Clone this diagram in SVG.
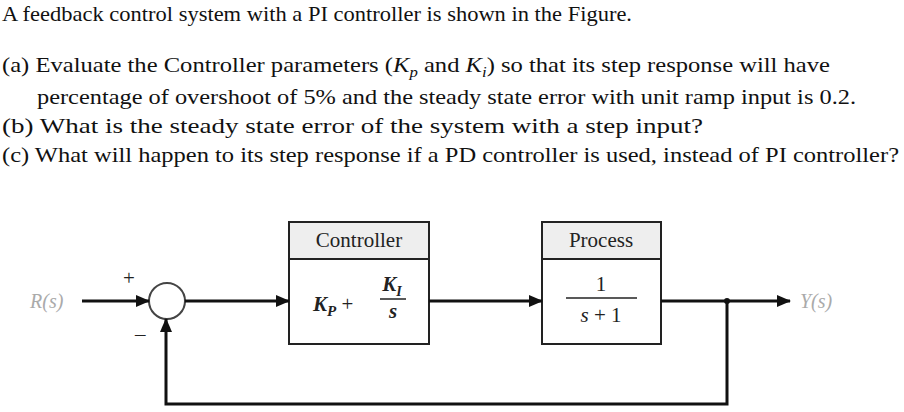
<svg xmlns="http://www.w3.org/2000/svg" width="904" height="412" viewBox="0 0 904 412">
<style>
.t{font-family:"Liberation Serif",serif;font-size:22px;fill:#111}
.b{fill:#fff;stroke:#222;stroke-width:2}
.h{fill:#eee;stroke:#222;stroke-width:2}
.c{stroke:#111;stroke-width:3;fill:none}
.g{font-family:"Liberation Serif",serif;font-size:20px;fill:#aaa;font-style:italic}
.m{font-family:"Liberation Serif",serif;font-size:21px;fill:#222}
</style>
<defs><marker id="a" markerWidth="14" markerHeight="12" refX="13" refY="6" orient="auto" markerUnits="userSpaceOnUse"><path d="M0,0L14,6L0,12z" fill="#111"/></marker></defs>
<rect width="904" height="412" fill="#fff"/>
<text class="t" x="2" y="21" textLength="630" lengthAdjust="spacingAndGlyphs">A feedback control system with a PI controller is shown in the Figure.</text>
<text class="t" x="2" y="72" textLength="828" lengthAdjust="spacingAndGlyphs">(a) Evaluate the Controller parameters (<tspan font-style="italic">K</tspan><tspan font-style="italic" font-size="15" dy="5">p</tspan><tspan dy="-5"> and </tspan><tspan font-style="italic">K</tspan><tspan font-style="italic" font-size="15" dy="5">i</tspan><tspan dy="-5">) so that its step response will have</tspan></text>
<text class="t" x="37" y="104" textLength="819" lengthAdjust="spacingAndGlyphs">percentage of overshoot of 5% and the steady state error with unit ramp input is 0.2.</text>
<text class="t" x="2" y="133" textLength="701" lengthAdjust="spacingAndGlyphs">(b) What is the steady state error of the system with a step input?</text>
<text class="t" x="2" y="162" textLength="897" lengthAdjust="spacingAndGlyphs">(c) What will happen to its step response if a PD controller is used, instead of PI controller?</text>
<g id="sum"><circle cx="167" cy="301" r="18" fill="#fff" stroke="#444" stroke-width="2"/><text class="m" x="123" y="285" font-size="24">+</text><text class="m" x="135" y="341" font-size="24">–</text></g>
<g id="controller"><rect class="b" x="289" y="222" width="140" height="122"/><rect class="h" x="289" y="222" width="140" height="37"/><text class="m" x="359" y="247" text-anchor="middle">Controller</text>
<text class="m" x="313" y="311" font-style="italic" font-weight="bold" font-size="23">K<tspan font-size="15" dy="5">P</tspan><tspan dy="-5" font-weight="normal" font-style="normal"> +</tspan></text>
<text class="m" x="392" y="291" font-style="italic" font-weight="bold" text-anchor="middle" font-size="22">K<tspan font-size="14" dy="5">I</tspan></text>
<line x1="380" y1="299" x2="406" y2="299" stroke="#222" stroke-width="1.5"/>
<text class="m" x="393" y="318" font-style="italic" font-weight="bold" text-anchor="middle">s</text></g>
<g id="process"><rect class="b" x="542" y="222" width="119" height="122"/><rect class="h" x="542" y="222" width="119" height="37"/><text class="m" x="601" y="247" text-anchor="middle">Process</text>
<text class="m" x="601" y="291" text-anchor="middle">1</text><line x1="566" y1="298" x2="637" y2="298" stroke="#222" stroke-width="1.5"/><text class="m" x="601" y="322" text-anchor="middle"><tspan font-style="italic">s</tspan> + 1</text></g>
<g id="labels"><text class="g" x="30" y="308">R(s)</text><text class="g" x="800" y="308">Y(s)</text></g>
<g id="connectors">
<line class="c" x1="82" y1="301" x2="149" y2="301" marker-end="url(#a)"/>
<line class="c" x1="185" y1="301" x2="289" y2="301" marker-end="url(#a)"/>
<line class="c" x1="429" y1="301" x2="542" y2="301" marker-end="url(#a)"/>
<line class="c" x1="661" y1="301" x2="790" y2="301" marker-end="url(#a)"/>
<circle cx="727" cy="301" r="3" fill="#111"/>
<polyline class="c" points="727,301 727,404 166,404 166,319" marker-end="url(#a)"/>
</g>
</svg>
